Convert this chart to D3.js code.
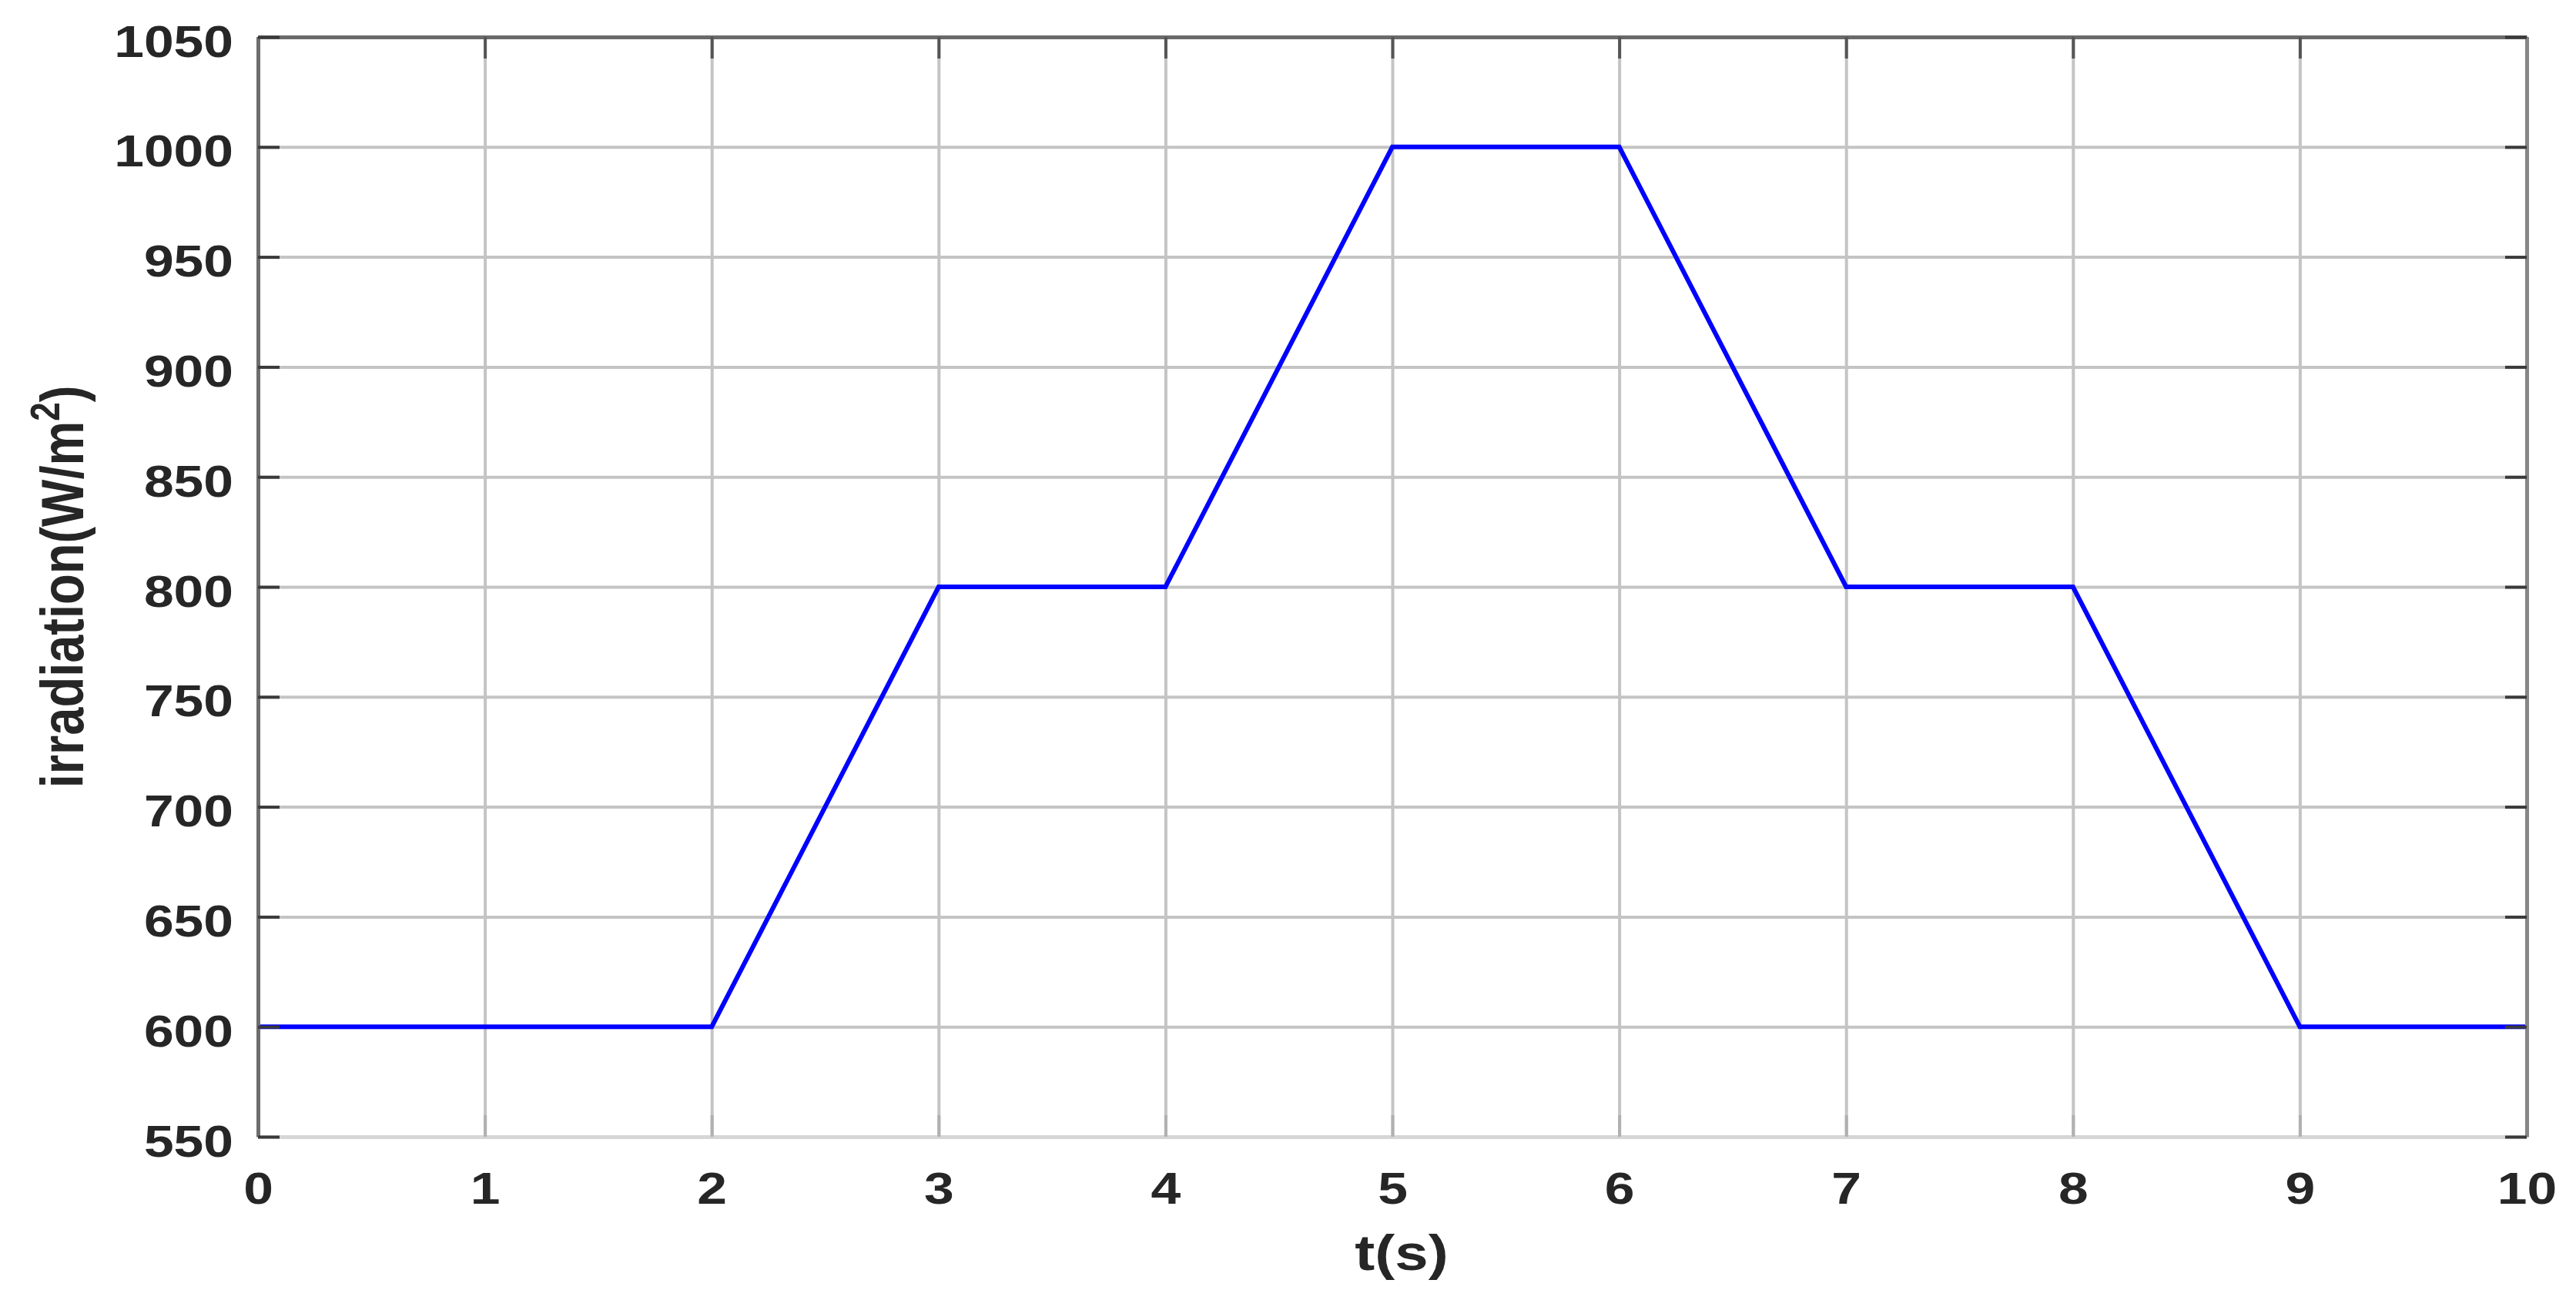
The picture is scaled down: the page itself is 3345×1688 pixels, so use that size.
<!DOCTYPE html>
<html>
<head>
<meta charset="utf-8">
<script src="https://cdn.jsdelivr.net/npm/d3@7"></script>
<style>
  html, body { margin: 0; padding: 0; background: #ffffff; }
  svg { display: block; }
  text { font-family: "Liberation Sans", Arial, "DejaVu Sans", sans-serif; font-weight: bold; fill: #262626; }
</style>
</head>
<body>
<svg id="chart" width="3345" height="1688"></svg>
<script>
// ---- data ----
const timeValues = [0, 2, 3, 4, 5, 6, 7, 8, 9, 10];
const irradianceValues = [600, 600, 800, 800, 1000, 1000, 800, 800, 600, 600];
const xTickValues = [0, 1, 2, 3, 4, 5, 6, 7, 8, 9, 10];
const yTickValues = [550, 600, 650, 700, 750, 800, 850, 900, 950, 1000, 1050];
const xLabel = "t(s)";
const yLabelMain = "irradiation(W/m";
const yLabelSup = "2";
const yLabelEnd = ")";

// ---- layout ----
const W = 3345, H = 1688;
const margin = { left: 335, right: 3345 - 3281, top: 48, bottom: 1688 - 1476 };
const stretch = 1.2;

const svg = d3.select("#chart");
const x = d3.scaleLinear().domain([0, 10]).range([margin.left, W - margin.right]);
const y = d3.scaleLinear().domain([550, 1050]).range([H - margin.bottom, margin.top]);

const x0 = x.range()[0], x1 = x.range()[1];
const yTop = y.range()[1], yBot = y.range()[0];

// grid
const grid = svg.append("g");
grid.append("g")
  .attr("transform", `translate(0,${yBot})`)
  .call(d3.axisBottom(x).tickValues(xTickValues).tickSize(-(yBot - yTop)).tickFormat(""))
  .call(g => g.select(".domain").remove())
  .call(g => g.selectAll("line").attr("stroke", "#c4c4c4").attr("stroke-width", 4));
grid.append("g")
  .attr("transform", `translate(${x0},0)`)
  .call(d3.axisLeft(y).tickValues(yTickValues).tickSize(-(x1 - x0)).tickFormat(""))
  .call(g => g.select(".domain").remove())
  .call(g => g.selectAll("line").attr("stroke", "#c4c4c4").attr("stroke-width", 4));

// data line
const line = d3.line().x((d, i) => x(timeValues[i])).y(d => y(d));
svg.append("path")
  .datum(irradianceValues)
  .attr("d", line)
  .attr("fill", "none")
  .attr("stroke", "#0000ff")
  .attr("stroke-width", 6)
  .attr("stroke-linejoin", "miter");

// axes (inward ticks)
const tickLen = 28;
function stretchText(sel) {
  sel.each(function () {
    const w = this.getComputedTextLength();
    d3.select(this).attr("textLength", w * stretch).attr("lengthAdjust", "spacingAndGlyphs");
  });
}

const axB = svg.append("g").attr("transform", `translate(0,${yBot})`)
  .call(d3.axisBottom(x).tickValues(xTickValues).tickSizeInner(-tickLen).tickSizeOuter(0).tickFormat(d3.format("d")));
axB.select(".domain").attr("stroke", "#d6d6d6").attr("stroke-width", 5);
axB.selectAll(".tick line").attr("stroke", "#b0b0b0").attr("stroke-width", 4);
axB.selectAll(".tick text").attr("y", 87).attr("dy", 0)
  .style("font-size", "58px").attr("fill", "#262626").call(stretchText);

const axT = svg.append("g").attr("transform", `translate(0,${yTop})`)
  .call(d3.axisTop(x).tickValues(xTickValues).tickSizeInner(-tickLen).tickSizeOuter(0).tickFormat(""));
axT.select(".domain").attr("stroke", "#6a6a6a").attr("stroke-width", 5);
axT.selectAll(".tick line").attr("stroke", "#555").attr("stroke-width", 4);

const axL = svg.append("g").attr("transform", `translate(${x0},0)`)
  .call(d3.axisLeft(y).tickValues(yTickValues).tickSizeInner(-tickLen).tickSizeOuter(0).tickFormat(d3.format("d")));
axL.select(".domain").attr("stroke", "#6e6e6e").attr("stroke-width", 5);
axL.selectAll(".tick line").attr("stroke", "#3a3a3a").attr("stroke-width", 4);
axL.selectAll(".tick text").attr("x", -32).attr("dy", 25)
  .style("font-size", "58px").attr("fill", "#262626").call(stretchText);

const axR = svg.append("g").attr("transform", `translate(${x1},0)`)
  .call(d3.axisRight(y).tickValues(yTickValues).tickSizeInner(-tickLen).tickSizeOuter(0).tickFormat(""));
axR.select(".domain").attr("stroke", "#878787").attr("stroke-width", 5);
axR.selectAll(".tick line").attr("stroke", "#3a3a3a").attr("stroke-width", 4);

// x label
svg.append("text")
  .attr("transform", `translate(1820,1649) scale(${stretch},1)`)
  .attr("text-anchor", "middle")
  .style("font-size", "65px")
  .text(xLabel);

// y label
const yl = svg.append("text")
  .attr("transform", `translate(108,${(yTop + yBot) / 2}) scale(${stretch},1) rotate(-90)`)
  .attr("text-anchor", "middle")
  .style("font-size", "65px");
yl.append("tspan").text(yLabelMain);
yl.append("tspan").attr("dy", -26).style("font-size", "44px").text(yLabelSup);
yl.append("tspan").attr("dy", 26).text(yLabelEnd);
</script>
</body>
</html>
